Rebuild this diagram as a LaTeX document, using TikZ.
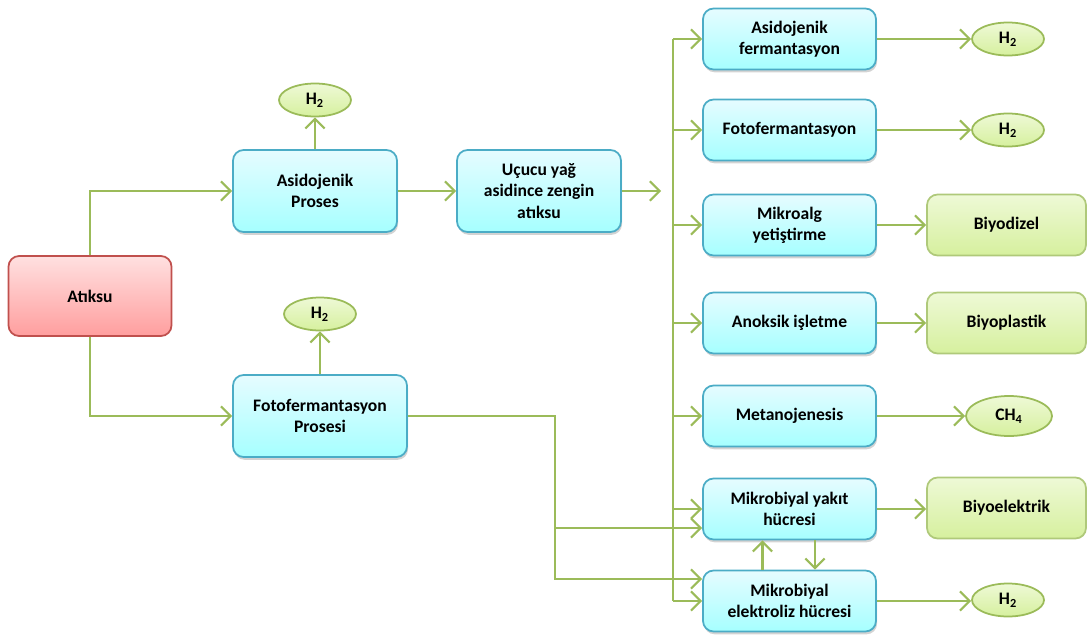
\documentclass[tikz,border=0pt]{standalone}
\usepackage{fontspec}
\setmainfont{Carlito}
\usepackage{tikz}
\usetikzlibrary{positioning, shapes, arrows.meta, calc, shadows}
\definecolor{mygreen}{RGB}{155,187,89}
\definecolor{myblue}{RGB}{75,172,198}
\definecolor{myred}{RGB}{192,80,77}
\definecolor{gtop}{RGB}{238,249,214}
\definecolor{gbot}{RGB}{214,240,158}
\tikzset{
  bluebox/.style={draw=myblue, line width=1pt, rounded corners=6pt, align=center,
    top color=blue!12!cyan!10!white, bottom color=cyan!35!white,
    minimum width=3.28cm, minimum height=1.64cm, font=\bfseries,
    drop shadow={opacity=0.35, shadow xshift=0.6pt, shadow yshift=-1.6pt}},
  colbox/.style={bluebox, minimum width=3.46cm, minimum height=1.22cm},
  redbox/.style={draw=myred, line width=1pt, rounded corners=6pt, align=center,
    top color=red!12!white, bottom color=red!38!white,
    minimum width=3.26cm, minimum height=1.6cm, font=\bfseries},
  greenbox/.style={draw=mygreen!80, line width=1pt, rounded corners=6pt, align=center,
    top color=gtop, bottom color=gbot,
    minimum width=3.18cm, minimum height=1.22cm, font=\bfseries},
  gas/.style={ellipse, draw=mygreen, line width=1pt, inner sep=0pt,
    top color=gtop, bottom color=gbot,
    minimum width=1.44cm, minimum height=0.66cm, font=\bfseries},
  arr/.style={draw=mygreen, line width=1.2pt, -{Straight Barb[length=5.5pt,width=11pt]}},
  lin/.style={draw=mygreen, line width=1.2pt}
}

\begin{document}
\begin{tikzpicture}[x=0.02cm, y=-0.02cm, font=\fontsize{10.8}{12.8}\selectfont]
\useasboundingbox (0,0) rectangle (1087,635);

% left part
\node [redbox] (atik) at (90,296) {At{\i}ksu};
\node [bluebox] (asp) at (315,191) {Asidojenik\\Proses};
\node [bluebox, minimum width=3.48cm] (ffp) at (320,416) {Fotofermantasyon\\Prosesi};
\node [gas] (h2a) at (315,100) {H\textsubscript{2}};
\node [gas] (h2b) at (320,314) {H\textsubscript{2}};
\node [bluebox] (ucy) at (539,191) {U\c{c}ucu ya\u{g}\\asidince zengin\\at{\i}ksu};

% right column
\node [colbox] (af) at (789.5,39) {Asidojenik\\fermantasyon};
\node [colbox] (ff) at (789.5,130) {Fotofermantasyon};
\node [colbox] (mk) at (789.5,225) {Mikroalg\\yeti\c{s}tirme};
\node [colbox] (an) at (789.5,323) {Anoksik i\c{s}letme};
\node [colbox] (mt) at (789.5,416) {Metanojenesis};
\node [colbox] (mfc) at (789.5,509) {Mikrobiyal yak{\i}t\\h\"ucresi};
\node [colbox] (mec) at (789.5,601) {Mikrobiyal\\elektroliz h\"ucresi};

% products
\node [gas] (h2c) at (1008,39) {H\textsubscript{2}};
\node [gas] (h2d) at (1008,130) {H\textsubscript{2}};
\node [greenbox] (bdz) at (1006.5,225) {Biyodizel};
\node [greenbox] (bpl) at (1006.5,323) {Biyoplastik};
\node [gas, minimum width=1.72cm, minimum height=0.8cm] (ch4) at (1009,416) {CH\textsubscript{4}};
\node [greenbox] (bel) at (1006.5,508) {Biyoelektrik};
\node [gas] (h2e) at (1008,600) {H\textsubscript{2}};

\coordinate (bustop) at (673,39);
\coordinate (busbot) at (673,601);
\coordinate (uend) at (661,191);
\coordinate (split) at (555,528);

\draw[arr] (atik.north) |- (asp.west);
\draw[arr] (atik.south) |- (ffp.west);
\draw[arr] (asp.north) -- (h2a.south);
\draw[arr] (ffp.north) -- (h2b.south);
\draw[arr] (asp.east) -- (ucy.west);
\draw[arr] (ucy.east) -- (uend);

% bus
\draw[lin] (bustop) -- (busbot);
\foreach \n in {af,ff,mk,an,mt,mfc,mec}
  \draw[arr] (bustop |- \n.west) -- (\n.west);

\draw[arr] (ffp.east) -| (split) -- (split -| mfc.west);
\draw[arr] (split) |- ($(mec.west)+(0,-22)$);
\draw[arr] ($(mec.north)+(-27,0)$) -- ($(mfc.south)+(-27,0)$);
\draw[arr] ($(mfc.south)+(25.5,0)$) -- ($(mec.north)+(25.5,0)$);

\draw[arr] (af.east) -- (h2c.west);
\draw[arr] (ff.east) -- (h2d.west);
\draw[arr] (mk.east) -- (bdz.west);
\draw[arr] (an.east) -- (bpl.west);
\draw[arr] (mt.east) -- (ch4.west);
\draw[arr] (mfc.east) -- (mfc.east -| bel.west);
\draw[arr] (mec.east) -- (mec.east -| h2e.west);
\end{tikzpicture}
\end{document}
